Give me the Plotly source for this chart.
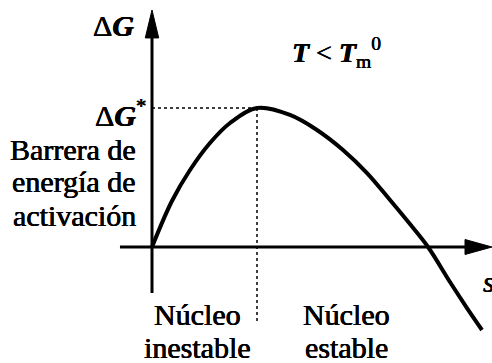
import plotly.graph_objects as go

# Free-energy curve of a nucleus: s (size) vs ΔG, peak normalised to (1, ΔG* = 1)
s_vals = [0.0, 0.190, 0.362, 0.552, 0.743, 1.0, 1.314, 1.571, 1.819,
          2.048, 2.267, 2.457, 2.629, 2.838, 3.000, 3.143]
dg_vals = [0.0, 0.331, 0.554, 0.748, 0.892, 1.0, 0.950, 0.842, 0.698,
           0.532, 0.338, 0.165, 0.0, -0.252, -0.439, -0.597]

s_crit = 1.0      # critical nucleus size
dg_crit = 1.0     # activation barrier ΔG*

SERIF = "Liberation Serif, Times New Roman, serif"
INK = "black"
HEAVY = "0.35px 0 0 #000, -0.35px 0 0 #000"

fig = go.Figure()

fig.add_trace(go.Scatter(
    x=s_vals, y=dg_vals, mode="lines",
    line=dict(color=INK, width=4, shape="spline", smoothing=1.0),
    hoverinfo="skip", showlegend=False,
))

shapes = [
    # vertical ΔG axis
    dict(type="line", xref="x", yref="y", x0=0, x1=0, y0=-0.331, y1=1.51,
         line=dict(color=INK, width=3)),
    # horizontal s axis
    dict(type="line", xref="x", yref="y", x0=-0.305, x1=2.99, y0=0, y1=0,
         line=dict(color=INK, width=3)),
    # arrowheads
    dict(type="path", xref="x", yref="y",
         path="M -0.064,1.504 L 0.064,1.504 L 0,1.705 Z",
         fillcolor=INK, line=dict(color=INK, width=1)),
    dict(type="path", xref="x", yref="y",
         path="M 2.981,-0.054 L 2.981,0.054 L 3.238,0 Z",
         fillcolor=INK, line=dict(color=INK, width=1)),
    # dotted guides to the barrier maximum
    dict(type="line", xref="x", yref="y", x0=0, x1=s_crit, y0=dg_crit, y1=dg_crit,
         line=dict(color=INK, width=1.5, dash="dot")),
    dict(type="line", xref="x", yref="y", x0=s_crit, x1=s_crit, y0=dg_crit, y1=-0.547,
         line=dict(color=INK, width=1.5, dash="dot")),
]

def label(text, x, y, xanchor, size=30):
    return dict(text=text, x=x, y=y, xref="x", yref="y", showarrow=False,
                xanchor=xanchor, yanchor="middle",
                font=dict(family=SERIF, size=size, color=INK, shadow=HEAVY))

annotations = [
    label("Δ<b><i>G</i></b>", -0.150, 1.597, "right"),
    label("Δ<b><i>G</i></b><sup>*</sup>", -0.038, 0.964, "right"),
    label("Barrera de", -0.133, 0.700, "right"),
    label("energía de", -0.133, 0.468, "right"),
    label("activación", -0.133, 0.230, "right"),
    label("<b><i>T</i></b> < <b><i>T</i></b><sub>m</sub><sup>0</sup>", 1.314, 1.396, "left", size=28),
    label("Núcleo", 0.433, -0.482, "center"),
    label("inestable", 0.433, -0.720, "center"),
    label("Núcleo", 1.848, -0.482, "center"),
    label("estable", 1.848, -0.720, "center"),
    label("<i>s</i>", 3.135, -0.245, "left"),
]

fig.update_layout(
    width=492, height=363,
    margin=dict(l=0, r=0, t=0, b=0),
    paper_bgcolor="white", plot_bgcolor="white",
    xaxis=dict(range=[-1.4476, 3.2381], visible=False, fixedrange=True),
    yaxis=dict(range=[-0.8345, 1.777], visible=False, fixedrange=True),
    shapes=shapes, annotations=annotations,
    showlegend=False,
)

fig.write_html("out.html")
